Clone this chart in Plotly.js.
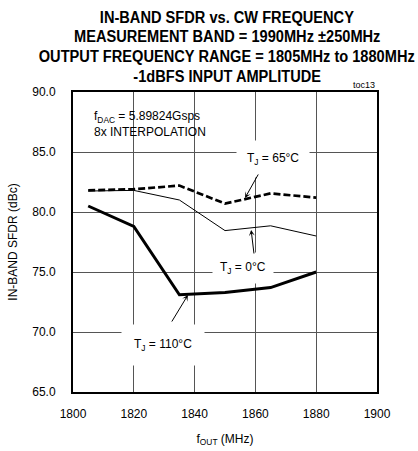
<!DOCTYPE html>
<html>
<head>
<meta charset="utf-8">
<script src="https://cdn.plot.ly/plotly-3.0.1.min.js"></script>
<style>html,body{margin:0;padding:0;background:#fff;}#chart{width:418px;height:451px;}</style>
</head>
<body>
<div id="chart"></div>
<script>
const freqMHz = [1805, 1820, 1835, 1850, 1865, 1880];
const sfdr65C = [81.8, 81.9, 82.2, 80.7, 81.55, 81.2];
const sfdr0C = [81.75, 81.8, 81.0, 78.45, 78.85, 78.0];
const sfdr110C = [80.5, 78.8, 73.1, 73.3, 73.7, 75.0];
const xTicks = [1800, 1820, 1840, 1860, 1880, 1900];
const yTicks = [65, 70, 75, 80, 85, 90];
const yTickLabels = ['65.0', '70.0', '75.0', '80.0', '85.0', '90.0'];
const titleLines = [
  'IN-BAND SFDR vs. CW FREQUENCY',
  'MEASUREMENT BAND = 1990MHz ±250MHz',
  'OUTPUT FREQUENCY RANGE = 1805MHz to 1880MHz',
  '-1dBFS INPUT AMPLITUDE'
];

const F = 'Liberation Sans, Arial, sans-serif';
const traces = [
  {x: freqMHz, y: sfdr65C, mode: 'lines', line: {color: '#000', width: 2.7, dash: '7px,3px'}, name: 'TJ = 65°C'},
  {x: freqMHz, y: sfdr0C, mode: 'lines', line: {color: '#000', width: 1}, name: 'TJ = 0°C'},
  {x: freqMHz, y: sfdr110C, mode: 'lines', line: {color: '#000', width: 3}, name: 'TJ = 110°C'}
];

// title lines as annotations (pixel rows -> paper coords)
const titleRowsPx = [17, 37, 57, 77];
const titleAnns = titleLines.map((t, i) => ({
  xref: 'paper', yref: 'paper', x: 0.507, y: 1 + (92 - titleRowsPx[i]) / 300,
  xanchor: 'center', yanchor: 'middle', showarrow: false, text: t,
  font: {family: F, size: 17, color: '#000', weight: 'bold'}
}));

const layout = {
  width: 418, height: 451,
  margin: {l: 73, r: 41, t: 92, b: 59},
  paper_bgcolor: '#fff', plot_bgcolor: '#fff',
  showlegend: false,
  font: {family: F, size: 12, color: '#000'},
  xaxis: {
    range: [1800, 1900], tickvals: xTicks, ticktext: xTicks.map(String),
    showgrid: true, gridcolor: '#555', gridwidth: 1,
    showline: true, linecolor: '#000', linewidth: 2, mirror: true,
    ticks: '', ticklabelstandoff: 10, zeroline: false,
    tickfont: {family: F, size: 12},
    title: {text: 'f<sub>OUT</sub> (MHz)', font: {family: F, size: 12}, standoff: 14}
  },
  yaxis: {
    range: [65, 90], tickvals: yTicks, ticktext: yTickLabels,
    showgrid: true, gridcolor: '#555', gridwidth: 1,
    showline: true, linecolor: '#000', linewidth: 2, mirror: true,
    ticks: '', ticklabelstandoff: 13, zeroline: false,
    tickfont: {family: F, size: 12},
    title: {text: 'IN-BAND SFDR (dBc)', font: {family: F, size: 12}, standoff: 12}
  },
  annotations: titleAnns.concat([
    {xref: 'x', yref: 'y', x: 1806.3, y: 87.35, xanchor: 'left', yanchor: 'middle', align: 'left', showarrow: false,
     text: 'f<sub>DAC</sub> = 5.89824Gsps<br>8x INTERPOLATION', font: {family: F, size: 12}},
    {xref: 'paper', yref: 'paper', x: 1.0, y: 1.023, xanchor: 'right', yanchor: 'middle', showarrow: false,
     text: 'toc13', font: {family: F, size: 9}},
    {xref: 'x', yref: 'y', x: 1865.8, y: 84.4, showarrow: false, text: 'T<sub>J</sub> = 65°C',
     bgcolor: '#fff', borderpad: 10, font: {family: F, size: 12}},
    {xref: 'x', yref: 'y', x: 1855.9, y: 75.3, showarrow: false, text: 'T<sub>J</sub> = 0°C',
     bgcolor: '#fff', borderpad: 7, font: {family: F, size: 12}},
    {xref: 'x', yref: 'y', x: 1829.6, y: 68.9, showarrow: false, text: 'T<sub>J</sub> = 110°C',
     bgcolor: '#fff', borderpad: 12, font: {family: F, size: 12}},
    {xref: 'x', yref: 'y', x: 1856.6, y: 81.17, ax: 14, ay: -25, text: '', showarrow: true,
     arrowhead: 3, arrowsize: 1, arrowwidth: 1, arrowcolor: '#000'},
    {xref: 'x', yref: 'y', x: 1858.6, y: 78.5, ax: 3, ay: 25, text: '', showarrow: true,
     arrowhead: 3, arrowsize: 1, arrowwidth: 1, arrowcolor: '#000'},
    {xref: 'x', yref: 'y', x: 1837.8, y: 73.08, ax: -17, ay: 28, text: '', showarrow: true,
     arrowhead: 3, arrowsize: 1, arrowwidth: 1, arrowcolor: '#000'}
  ])
};
Plotly.newPlot('chart', traces, layout, {staticPlot: true, displayModeBar: false}).then(() => {
  // condense the bold title lines horizontally (narrow typeface look)
  const s = 0.86;
  for (let i = 0; i < titleLines.length; i++) {
    const t = document.querySelector('g.annotation[data-index="' + i + '"] text.annotation-text');
    if (!t) continue;
    const b = t.getBBox();
    const cx = b.x + b.width / 2;
    const prev = t.getAttribute('transform') || '';
    t.setAttribute('transform', prev + ' translate(' + cx + ',0) scale(' + s + ',1) translate(' + (-cx) + ',0)');
  }
});
</script>
</body>
</html>
